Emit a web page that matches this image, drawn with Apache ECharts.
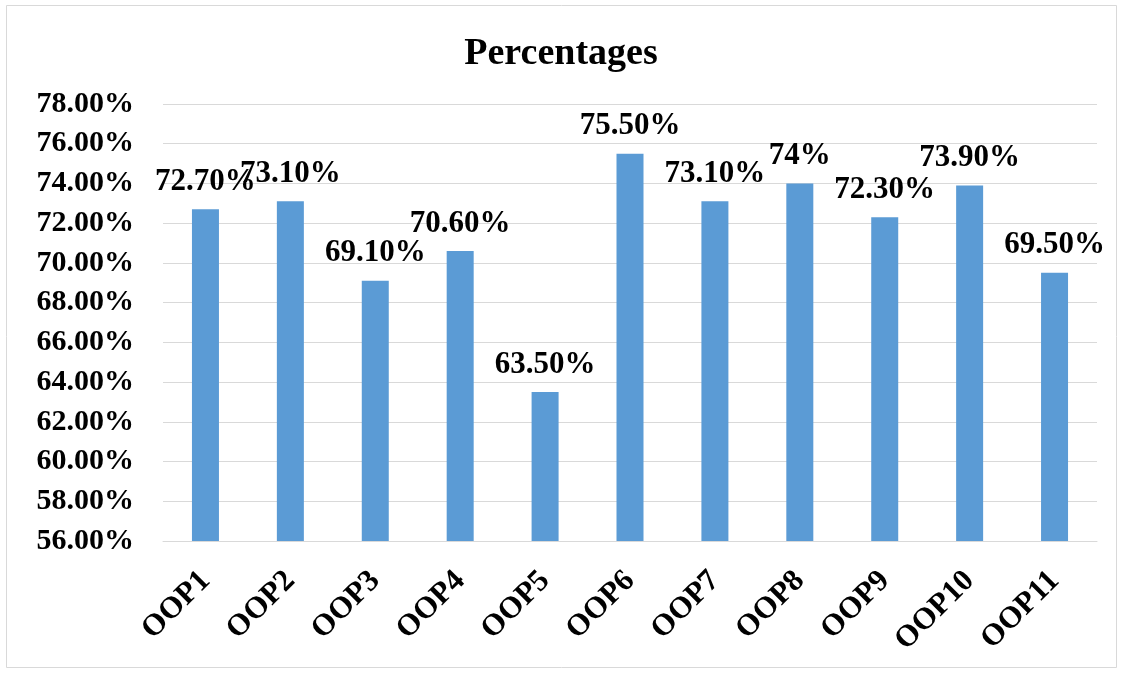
<!DOCTYPE html>
<html>
<head>
<meta charset="utf-8">
<script src="https://cdn.jsdelivr.net/npm/echarts@6/dist/echarts.min.js"></script>
<style>
    body { margin: 0; background: #fff; }
    #chart { width: 1122px; height: 673px; }
</style>
</head>
<body>
<div id="chart"></div>
<script>
// ---- data
var categories = ['OOP1', 'OOP2', 'OOP3', 'OOP4', 'OOP5', 'OOP6', 'OOP7', 'OOP8', 'OOP9', 'OOP10', 'OOP11'];
var percentValues = [72.7, 73.1, 69.1, 70.6, 63.5, 75.5, 73.1, 74, 72.3, 73.9, 69.5];
var valueLabels = ['72.70%', '73.10%', '69.10%', '70.60%', '63.50%', '75.50%', '73.10%', '74%', '72.30%', '73.90%', '69.50%'];
var yMin = 56, yMax = 78, yStep = 2;

var fontFam = '"Liberation Serif", "Times New Roman", serif';

var chart = echarts.init(document.getElementById('chart'));
var option = {
    animation: false,
    backgroundColor: '#ffffff',
    graphic: [{
        type: 'rect',
        shape: { x: 6.5, y: 5.5, width: 1110, height: 662 },
        style: { fill: 'none', stroke: '#d9d9d9', lineWidth: 1 },
        silent: true
    }],
    title: {
        text: 'Percentages',
        left: 'center',
        top: 30,
        textStyle: {
            fontFamily: fontFam,
            fontWeight: 'bold',
            fontSize: 38,
            color: '#000'
        }
    },
    grid: {
        left: 163,
        right: 25,
        top: 104,
        bottom: 132
    },
    xAxis: {
        type: 'category',
        data: categories,
        axisTick: { show: false },
        axisLine: { lineStyle: { color: '#d9d9d9', width: 1 } },
        axisLabel: {
            interval: 0,
            rotate: 45,
            margin: 35,
            fontFamily: fontFam,
            fontWeight: 'bold',
            fontSize: 31,
            color: '#000'
        }
    },
    yAxis: {
        type: 'value',
        min: yMin,
        max: yMax,
        interval: yStep,
        axisLine: { show: false },
        axisTick: { show: false },
        splitLine: { lineStyle: { color: '#d9d9d9', width: 1 } },
        axisLabel: {
            margin: 29,
            fontFamily: fontFam,
            fontWeight: 'bold',
            fontSize: 30,
            color: '#000',
            formatter: function (val) {
                return val.toFixed(2) + '%';
            }
        }
    },
    series: [{
        type: 'bar',
        data: percentValues,
        barWidth: 27,
        itemStyle: { color: '#5b9bd5' },
        label: {
            show: true,
            position: 'top',
            distance: 12,
            fontFamily: fontFam,
            fontWeight: 'bold',
            fontSize: 31,
            color: '#000',
            formatter: function (p) {
                return valueLabels[p.dataIndex];
            }
        }
    }]
};
chart.setOption(option);
</script>
</body>
</html>
